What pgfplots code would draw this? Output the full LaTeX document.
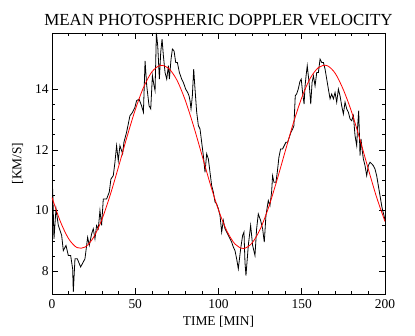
\documentclass[border=0pt]{standalone}
\usepackage{fontspec}
\setmainfont{Liberation Serif}
\usepackage{pgfplots}
\pgfplotsset{compat=1.18}

\pgfplotstableread{
t v
0.4 10.71
1.2 9.07
2.4 10.06
3.8 9.51
5.8 9.18
6.8 8.68
8.4 8.85
9.8 8.52
11.2 8.52
12.4 8.08
12.8 7.32
13.8 8.41
15.2 8.41
17.2 8.14
19.8 8.41
20.8 8.85
21.4 9.12
22.4 8.85
23.8 9.23
24.8 9.40
25.8 9.07
26.8 9.51
27.8 9.40
28.8 10.00
29.8 9.51
30.8 10.38
32.8 10.38
34.4 10.61
35.4 11.04
36.8 11.15
37.8 11.59
38.8 12.14
39.8 11.64
40.8 12.14
42.4 11.87
43.2 12.25
44.8 12.58
46.8 13.12
48.4 13.24
49.8 13.40
50.8 13.62
52.3 13.67
53.8 13.45
54.9 13.24
55.9 14.93
56.9 14.11
58.3 13.45
59.3 13.35
60.3 14.44
61.3 14.11
61.9 13.95
62.7 15.85
63.5 15.43
64.5 14.33
65.3 15.21
66.1 15.65
66.9 15.10
67.9 14.55
68.9 14.33
69.9 14.77
70.5 14.33
71.5 14.99
72.3 15.32
73.3 15.26
74.3 14.88
75.3 14.88
76.5 14.55
77.9 14.33
78.9 14.22
80.3 14.00
81.5 13.89
82.3 13.78
82.9 13.62
83.5 13.35
84.3 13.78
85.1 14.66
85.9 14.00
86.9 13.24
87.9 12.80
88.9 12.69
89.9 12.25
90.9 11.81
91.9 11.26
92.9 11.87
93.9 11.70
94.9 11.26
95.9 10.82
96.9 10.61
97.9 10.28
98.9 10.22
99.9 10.06
100.9 9.84
101.9 9.29
102.9 9.67
103.9 9.40
104.9 9.29
105.9 9.18
106.9 9.07
107.9 8.96
108.9 8.80
109.9 8.68
110.9 8.41
111.9 8.08
113.3 8.74
114.5 9.18
115.3 9.29
115.9 8.30
116.5 7.86
117.9 8.85
119.3 9.51
120.5 8.85
121.9 8.52
122.9 9.40
123.9 9.89
125.3 9.67
126.5 9.40
127.5 8.96
128.5 9.84
129.9 10.33
130.9 10.16
131.9 10.61
132.5 11.15
133.3 10.93
134.5 10.93
135.3 11.26
136.3 11.76
137.3 12.03
138.5 12.03
139.5 12.14
140.5 12.25
141.5 12.25
142.5 12.41
143.5 12.58
144.6 12.69
145.3 12.80
146.1 13.78
146.9 13.84
147.9 14.00
148.9 14.25
149.7 14.33
150.5 13.89
151.4 13.51
152.0 14.11
152.6 14.44
153.3 14.77
154.4 14.22
155.4 13.51
156.2 14.22
157.0 14.44
158.0 14.11
159.0 14.55
160.0 14.55
161.0 14.99
162.0 14.88
163.0 14.88
164.0 14.66
165.0 14.33
166.0 14.00
167.0 13.68
168.0 13.84
169.0 13.68
170.0 13.89
171.0 13.57
172.0 14.00
173.0 13.78
174.0 13.45
175.0 13.18
176.0 13.57
177.0 13.35
178.0 13.24
179.0 13.02
180.0 12.96
181.0 13.13
182.0 12.47
183.0 12.14
183.6 12.80
184.2 13.29
185.0 11.81
185.6 12.36
186.2 12.03
187.0 11.70
188.0 11.48
189.0 11.15
190.0 11.48
191.0 11.59
192.0 11.54
193.0 11.48
194.0 11.37
195.0 11.15
196.0 10.82
197.0 10.49
198.0 10.16
198.6 10.00
199.4 9.84
200.0 9.67
}\obs

% sinusoidal fit
\pgfplotstableread{
t v
0 10.43
5 9.64
10 9.07
15 8.78
20 8.80
25 9.12
30 9.71
35 10.52
40 11.45
45 12.42
50 13.32
55 14.06
60 14.57
65 14.78
70 14.69
75 14.30
80 13.64
85 12.79
90 11.84
95 10.88
100 10.02
105 9.33
110 8.89
115 8.75
120 8.92
125 9.38
130 10.09
135 10.98
140 11.94
145 12.89
150 13.72
155 14.35
160 14.71
165 14.78
170 14.53
175 13.98
180 13.24
185 12.33
190 11.36
195 10.43
200 9.64
}\fit

\begin{document}
\begin{tikzpicture}
\begin{axis}[
  name=ax,
  width=333bp, height=261bp, scale only axis,
  xmin=0, xmax=200, ymin=7.25, ymax=15.85,
  xtick={0,50,100,150,200}, minor x tick num=4,
  ytick={8,10,12,14}, minor y tick num=3,
  tick align=inside,
  major tick length=6bp, minor tick length=3bp,
  tick style={black, line width=0.6bp},
  axis line style={line width=0.8bp},
  ticklabel style={font=\fontsize{13.5}{15}\selectfont},
  xticklabel style={yshift=-2bp},
  /pgf/number format/assume math mode=true,
  title={MEAN PHOTOSPHERIC DOPPLER VELOCITY},
  title style={font=\fontsize{17}{20}\selectfont, yshift=-2bp},
  xlabel={TIME [MIN]}, ylabel={[KM/S]},
  label style={font=\fontsize{13.5}{15}\selectfont},
  xlabel style={yshift=-1bp},
  ylabel shift=5bp,
]
\addplot[black, line width=0.8bp] table[x=t, y=v] {\obs};
\addplot[red, line width=0.8bp, smooth] table[x=t, y=v] {\fit};
\end{axis}
\path (ax.south west) ++(-52bp,-42bp) (ax.north east) ++(30bp,33bp);
\end{tikzpicture}
\end{document}
